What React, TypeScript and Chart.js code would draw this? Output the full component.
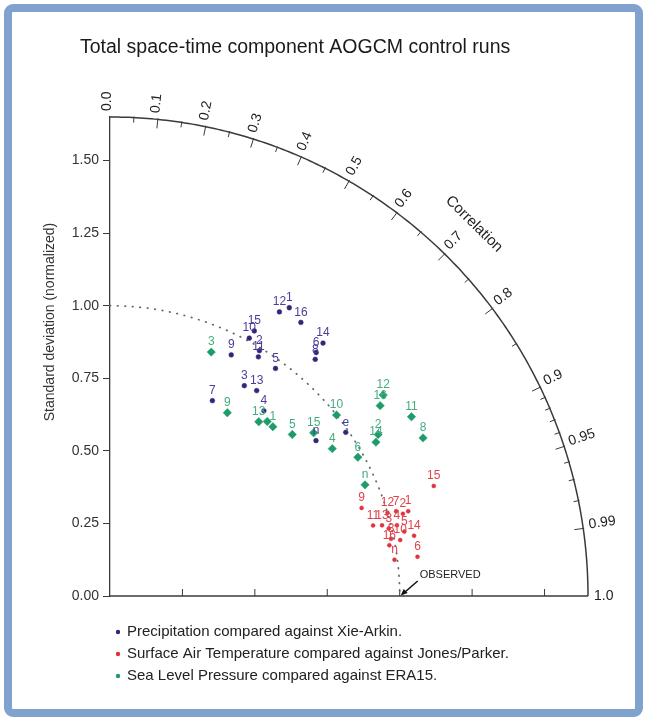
import React, { useEffect, useRef } from "react";
import { Chart, registerables } from "chart.js";

Chart.register(...registerables);

// ---------- DATA ----------
const TITLE = "Total space-time component AOGCM control runs";
const Y_TITLE = "Standard deviation (normalized)";
const STD_TICKS = [0, 0.25, 0.5, 0.75, 1.0, 1.25, 1.5];
const STD_MAX = 1.65;
const CORR_MAJOR = [0, 0.1, 0.2, 0.3, 0.4, 0.5, 0.6, 0.7, 0.8, 0.9, 0.95, 0.99, 1.0];
const CORR_MAJOR_LABELS = ["0.0", "0.1", "0.2", "0.3", "0.4", "0.5", "0.6", "0.7", "0.8", "0.9", "0.95", "0.99", "1.0"];
const CORR_MINOR = [0.05, 0.15, 0.25, 0.35, 0.45, 0.55, 0.65, 0.75, 0.85, 0.91, 0.92, 0.93, 0.94, 0.96, 0.97, 0.98];
const OBSERVED_STD = 1.0;

const precipLabels = ["1", "2", "3", "4", "5", "6", "7", "8", "9", "10", "11", "12", "13", "14", "15", "16", "e", "n"];
const precipStd = [1.17, 0.99, 0.86, 0.83, 0.97, 1.1, 0.76, 1.08, 0.93, 1.01, 0.97, 1.14, 0.87, 1.14, 1.04, 1.15, 0.99, 0.89];
const precipCorr = [0.529, 0.521, 0.539, 0.64, 0.589, 0.647, 0.465, 0.656, 0.45, 0.476, 0.528, 0.513, 0.582, 0.645, 0.479, 0.573, 0.822, 0.799];

const tempLabels = ["1", "2", "3", "4", "5", "6", "7", "8", "9", "10", "11", "12", "13", "14", "15", "16", "n"];
const tempStd = [1.07, 1.05, 0.99, 1.02, 1.04, 1.07, 1.03, 0.99, 0.92, 1.02, 0.94, 1.0, 0.97, 1.07, 1.18, 0.98, 0.99];
const tempCorr = [0.962, 0.963, 0.972, 0.971, 0.977, 0.992, 0.959, 0.98, 0.944, 0.982, 0.966, 0.958, 0.968, 0.981, 0.947, 0.984, 0.992];

const slpLabels = ["1", "2", "3", "4", "5", "6", "", "8", "9", "10", "11", "12", "13", "14", "15", "16", "n"];
const slpStd = [0.81, 1.08, 0.91, 0.92, 0.84, 0.98, 0.81, 1.21, 0.75, 1.0, 1.21, 1.17, 0.79, 1.06, 0.9, 1.14, 0.96];
const slpCorr = [0.694, 0.857, 0.384, 0.834, 0.749, 0.873, 0.67, 0.893, 0.54, 0.782, 0.86, 0.806, 0.65, 0.866, 0.781, 0.818, 0.917];

const LEGEND_TEXT = [
  "Precipitation compared against Xie-Arkin.",
  "Surface Air Temperature compared against Jones/Parker.",
  "Sea Level Pressure compared against ERA15.",
];

// ---------- STYLE ----------
const FONT = "'Liberation Sans', Arial, Helvetica, sans-serif";
const BLUE = "#2f2878";
const RED = "#e1313c";
const GREEN = "#1c9c68";
const BLUE_LBL = "#4a3d98";
const RED_LBL = "#e2414a";
const GREEN_LBL = "#45ad80";
const AXIS = "#3a3a3a";

const toXY = (std: number[], corr: number[]) =>
  std.map((s, i) => ({ x: s * corr[i], y: s * Math.sqrt(1 - corr[i] * corr[i]) }));

const taylorPlugin = {
  id: "taylor",
  beforeDraw(chart: any) {
    const ctx = chart.ctx;
    ctx.save();
    ctx.fillStyle = "#ffffff";
    ctx.fillRect(0, 0, chart.width, chart.height);
    ctx.strokeStyle = "#80a2ce";
    ctx.lineWidth = 8;
    ctx.beginPath();
    if (ctx.roundRect) ctx.roundRect(8, 8, chart.width - 16, chart.height - 16, 5);
    else ctx.rect(8, 8, chart.width - 16, chart.height - 16);
    ctx.stroke();
    ctx.restore();
  },
  beforeDatasetsDraw(chart: any) {
    const ctx = chart.ctx;
    const xs = chart.scales.x;
    const ys = chart.scales.y;
    const P = (r: number, th: number) => [xs.getPixelForValue(r * Math.cos(th)), ys.getPixelForValue(r * Math.sin(th))];
    ctx.save();
    // x axis line and ticks
    ctx.strokeStyle = AXIS;
    ctx.lineWidth = 1.3;
    ctx.beginPath();
    ctx.moveTo(xs.getPixelForValue(0), ys.getPixelForValue(0));
    ctx.lineTo(xs.getPixelForValue(STD_MAX), ys.getPixelForValue(0));
    ctx.stroke();
    ctx.lineWidth = 1;
    STD_TICKS.slice(1).forEach((v) => {
      const px = xs.getPixelForValue(v);
      const py = ys.getPixelForValue(0);
      ctx.beginPath();
      ctx.moveTo(px, py);
      ctx.lineTo(px, py - 7);
      ctx.stroke();
    });
    // outer arc
    ctx.lineWidth = 1.5;
    ctx.beginPath();
    for (let i = 0; i <= 200; i++) {
      const th = (Math.PI / 2) * (i / 200);
      const [px, py] = P(STD_MAX, th);
      if (i === 0) ctx.moveTo(px, py);
      else ctx.lineTo(px, py);
    }
    ctx.stroke();
    // correlation ticks
    ctx.lineWidth = 1;
    const tick = (c: number, len: number) => {
      const th = Math.acos(c);
      const [px, py] = P(STD_MAX, th);
      ctx.beginPath();
      ctx.moveTo(px + 1 * Math.cos(th), py - 1 * Math.sin(th));
      ctx.lineTo(px - len * Math.cos(th), py + len * Math.sin(th));
      ctx.stroke();
    };
    CORR_MAJOR.forEach((c) => { if (c > 0 && c < 1) tick(c, 9); });
    CORR_MINOR.forEach((c) => tick(c, 5));
    // correlation labels
    ctx.fillStyle = "#222";
    ctx.font = `14px ${FONT}`;
    ctx.textAlign = "left";
    ctx.textBaseline = "middle";
    CORR_MAJOR.forEach((c, i) => {
      const th = Math.acos(c);
      const [px, py] = P(STD_MAX, th);
      ctx.save();
      ctx.translate(px + 6 * Math.cos(th), py - 6 * Math.sin(th));
      ctx.rotate(-th);
      ctx.fillText(CORR_MAJOR_LABELS[i], 0, c === 1 ? 0 : -3);
      ctx.restore();
    });
    // "Correlation" axis title
    {
      const th = Math.acos(0.7);
      const [px, py] = P(STD_MAX, th);
      ctx.save();
      ctx.translate(px + 42 * Math.cos(th), py - 42 * Math.sin(th));
      ctx.rotate(Math.PI / 2 - th);
      ctx.textAlign = "center";
      ctx.font = `15px ${FONT}`;
      ctx.fillText("Correlation", 0, 0);
      ctx.restore();
    }
    // dotted reference circle (std = observed)
    ctx.strokeStyle = "#666666";
    ctx.lineWidth = 1.8;
    ctx.lineCap = "round";
    ctx.setLineDash([0.5, 7]);
    ctx.beginPath();
    for (let i = 0; i <= 200; i++) {
      const th = (Math.PI / 2) * (1 - i / 200);
      const [px, py] = P(OBSERVED_STD, th);
      if (i === 0) ctx.moveTo(px, py);
      else ctx.lineTo(px, py);
    }
    ctx.stroke();
    ctx.setLineDash([]);
    ctx.restore();
  },
  afterDatasetsDraw(chart: any) {
    const ctx = chart.ctx;
    const xs = chart.scales.x;
    const ys = chart.scales.y;
    ctx.save();
    // point labels
    const colors = [BLUE_LBL, RED_LBL, GREEN_LBL];
    const labelSets = [precipLabels, tempLabels, slpLabels];
    ctx.font = `12px ${FONT}`;
    ctx.textAlign = "center";
    ctx.textBaseline = "bottom";
    chart.data.datasets.forEach((ds: any, di: number) => {
      ctx.fillStyle = colors[di];
      ds.data.forEach((pt: any, i: number) => {
        const lbl = labelSets[di][i];
        if (!lbl) return;
        ctx.fillText(lbl, xs.getPixelForValue(pt.x), ys.getPixelForValue(pt.y) - 4);
      });
    });
    // OBSERVED marker
    const ox = xs.getPixelForValue(OBSERVED_STD);
    const oy = ys.getPixelForValue(0);
    ctx.fillStyle = "#222";
    ctx.font = `11px ${FONT}`;
    ctx.textAlign = "left";
    ctx.textBaseline = "middle";
    ctx.fillText("OBSERVED", ox + 20, oy - 21);
    ctx.strokeStyle = "#111";
    ctx.lineWidth = 1.5;
    ctx.beginPath();
    ctx.moveTo(ox + 18, oy - 15);
    ctx.lineTo(ox + 3, oy - 2);
    ctx.stroke();
    ctx.beginPath();
    ctx.moveTo(ox + 1, oy - 0.5);
    ctx.lineTo(ox + 4, oy - 7);
    ctx.lineTo(ox + 8, oy - 3);
    ctx.closePath();
    ctx.fillStyle = "#111";
    ctx.fill();
    // title
    ctx.fillStyle = "#1a1a1a";
    ctx.font = `19.5px ${FONT}`;
    ctx.textAlign = "left";
    ctx.textBaseline = "alphabetic";
    ctx.fillText(TITLE, 80, 53);
    // y title
    ctx.save();
    ctx.translate(50, 322);
    ctx.rotate(-Math.PI / 2);
    ctx.textAlign = "center";
    ctx.textBaseline = "middle";
    ctx.font = `14px ${FONT}`;
    ctx.fillStyle = "#333";
    ctx.fillText(Y_TITLE, 0, 0);
    ctx.restore();
    // legend
    const legColors = [BLUE, RED, GREEN];
    ctx.font = `15px ${FONT}`;
    ctx.textBaseline = "middle";
    LEGEND_TEXT.forEach((t, i) => {
      const y = 632 + i * 22;
      ctx.fillStyle = legColors[i];
      ctx.beginPath();
      ctx.arc(118, y, 2.2, 0, Math.PI * 2);
      ctx.fill();
      ctx.fillStyle = "#222";
      ctx.fillText(t, 127, y);
    });
    ctx.restore();
  },
};

export default function App() {
  const ref = useRef<HTMLCanvasElement | null>(null);
  useEffect(() => {
    if (!ref.current) return;
    const chart = new Chart(ref.current, {
      type: "scatter",
      data: {
        datasets: [
          {
            label: "Precipitation",
            data: toXY(precipStd, precipCorr),
            pointStyle: "circle",
            pointRadius: 2.4,
            backgroundColor: BLUE,
            borderColor: BLUE,
            borderWidth: 0.5,
          },
          {
            label: "Surface Air Temperature",
            data: toXY(tempStd, tempCorr),
            pointStyle: "circle",
            pointRadius: 2,
            backgroundColor: RED,
            borderColor: RED,
            borderWidth: 0.5,
          },
          {
            label: "Sea Level Pressure",
            data: toXY(slpStd, slpCorr),
            pointStyle: "rectRot",
            pointRadius: 4.2,
            backgroundColor: GREEN,
            borderColor: GREEN,
            borderWidth: 0.5,
          },
        ],
      },
      options: {
        responsive: false,
        animation: false,
        devicePixelRatio: 1,
        layout: { padding: { left: 0, top: 117, right: 59, bottom: 125 } },
        plugins: { legend: { display: false }, tooltip: { enabled: false }, title: { display: false } },
        scales: {
          x: { type: "linear", min: 0, max: STD_MAX, display: false },
          y: {
            type: "linear",
            min: 0,
            max: STD_MAX,
            afterFit: (s: any) => { s.width = 110; },
            afterBuildTicks: (s: any) => { s.ticks = STD_TICKS.map((v) => ({ value: v })); },
            ticks: {
              callback: (v: any) => Number(v).toFixed(2),
              font: { family: FONT, size: 14 },
              color: "#333",
              padding: 4,
            },
            grid: { drawOnChartArea: false, drawTicks: true, tickLength: 7, color: AXIS },
            border: { display: true, color: AXIS, width: 1.3 },
          },
        },
      },
      plugins: [taylorPlugin],
    } as any);
    return () => chart.destroy();
  }, []);
  return (
    <div style={{ position: "absolute", left: 0, top: 0, width: 647, height: 721, background: "#fff" }}>
      <canvas ref={ref} width={647} height={721} style={{ display: "block" }} />
    </div>
  );
}
